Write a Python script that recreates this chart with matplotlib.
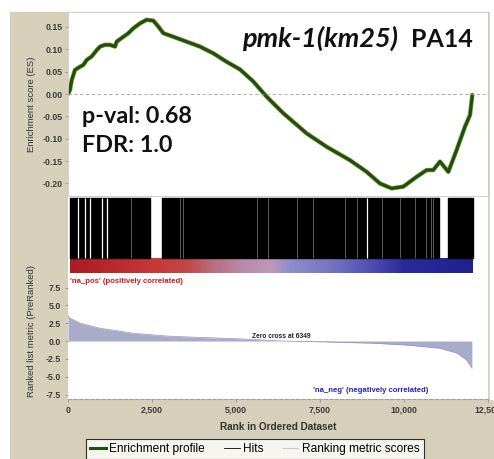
import numpy as np
import matplotlib
matplotlib.use('Agg')
from matplotlib import pyplot as plt
from matplotlib.patches import Rectangle
from matplotlib.lines import Line2D
from matplotlib.colors import LinearSegmentedColormap

plt.rcParams['axes.unicode_minus'] = False

# enrichment profile (rank, ES)
es_rank = [0, 60, 110, 208, 357, 456, 555, 704, 853, 952, 1101, 1250, 1399, 1448,
           1647, 1796, 1944, 2143, 2341, 2540, 2688, 2837, 3135, 3532, 3929, 4325,
           4722, 5119, 5515, 5912, 6408, 7103, 7698, 8392, 8889, 9285, 9633, 9980,
           10377, 10674, 10872, 11071, 11319, 11567, 11815, 11964, 12033]
es_val = [0.0, 0.009, 0.031, 0.054, 0.061, 0.065, 0.076, 0.084, 0.098, 0.106, 0.110,
          0.110, 0.106, 0.117, 0.128, 0.136, 0.147, 0.158, 0.166, 0.164, 0.151, 0.136,
          0.128, 0.117, 0.106, 0.091, 0.072, 0.055, 0.028, -0.006, -0.043, -0.088,
          -0.118, -0.148, -0.174, -0.200, -0.211, -0.207, -0.185, -0.170, -0.170,
          -0.151, -0.174, -0.125, -0.073, -0.047, -0.002]

# ranked list metric (rank, score)
metric_rank = [0, 60, 360, 950, 1930, 2950, 3930, 4910, 5600, 6349, 7500, 9080,
               10090, 11070, 11580, 11870, 12020]
metric_val = [3.6, 3.2, 2.5, 1.8, 1.1, 0.7, 0.5, 0.35, 0.2, 0.0, -0.1, -0.3,
              -0.56, -1.0, -1.7, -2.7, -3.8]

# hits: dense blocks of hits and the small holes between them
hit_blocks = [(60, 2440), (2790, 11040), (11310, 12050)]
gap_white = [307, 506, 655, 1003, 1152, 8898]
gap_gray = [1875, 3333, 3422, 5625, 5952, 6815, 7291, 8244, 8601, 9345, 9880,
            10327, 10654, 10803, 10862]

# colour bar under the hits (rank stop, colour)
bar_stops = [0, 2500, 3500, 4300, 5100, 6000, 6500, 8000, 9200, 10000, 12050]
bar_colors = ['#a81c22', '#c83838', '#c04848', '#b87080', '#b888a8', '#c098b8',
              '#9090cc', '#7070c0', '#4848b0', '#2a2a9c', '#20208f']

x_ticks = [0, 2500, 5000, 7500, 10000, 12500]
x_tick_labels = ['0', '2,500', '5,000', '7,500', '10,000', '12,500']
es_ticks = [-0.20, -0.15, -0.10, -0.05, 0.00, 0.05, 0.10, 0.15]
metric_ticks = [-7.5, -5.0, -2.5, 0.0, 2.5, 5.0, 7.5]

tan = '#d6cfb9'
W, H = 494, 459
fig = plt.figure(figsize=(W / 100, H / 100), dpi=100)
fig.patch.set_facecolor('white')
fig.add_artist(Rectangle((10 / W, 0), 1, 1 - 12 / H, transform=fig.transFigure,
                         color=tan, zorder=-5))
fig.add_artist(Rectangle((490 / W, 60 / H), 1, 1, transform=fig.transFigure,
                         color='white', zorder=-4))

L = 68 / W
AW = 420 / W
ax1 = fig.add_axes([L, 1 - 196 / H, AW, 184 / H])
ax2 = fig.add_axes([L, 1 - 277 / H, AW, 81 / H])
ax3 = fig.add_axes([L, 1 - 399 / H, AW, 122 / H])

tickfont = dict(family='Liberation Sans', weight='bold', size=6.3)

# ---- enrichment score
ax1.plot(es_rank, es_val, color='#8c9a2a', lw=3.2, solid_capstyle='round')
ax1.plot(es_rank, es_val, color='#1d4f14', lw=2.2, solid_capstyle='round')
ax1.axhline(0, color='#a0a0a0', lw=0.6, ls=(0, (4, 3)))
ax1.set_xlim(0, 12500)
ax1.set_ylim(-0.228, 0.1834)
ax1.set_xticks([])
ax1.set_yticks(es_ticks)
ax1.set_yticklabels(['%.2f' % v for v in es_ticks], fontdict=tickfont, color='#3a3a3a')
ax1.set_ylabel('Enrichment score (ES)', family='Liberation Sans', size=6.8, color='#333333')
ax1.yaxis.set_label_coords(-0.075, 0.5)
for s in ax1.spines.values():
    s.set_color('#c8c8c8')
    s.set_linewidth(0.6)
ax1.tick_params(axis='y', length=2, width=0.5, color='#888888', pad=2)

ax1.text(9820, 0.105, 'pmk-1(km25)', family='Lato', style='italic', weight='bold',
         size=19.5, ha='right', va='baseline', color='#111111')
ax1.text(10208, 0.105, 'PA14', family='Lato', weight='bold', size=18,
         ha='left', va='baseline', color='#111111')
ax1.text(417, -0.065, 'p-val: 0.68', family='Lato', weight='bold', size=16.8,
         ha='left', va='baseline', color='#111111')
ax1.text(417, -0.130, 'FDR: 1.0', family='Lato', weight='bold', size=16.8,
         ha='left', va='baseline', color='#111111')

# ---- hits + colour bar
ax2.set_xlim(0, 12500)
ax2.set_ylim(0, 1)
ax2.broken_barh([(a, b - a) for a, b in hit_blocks], (0.23, 0.745), color='black')
ax2.vlines(gap_white, 0.23, 0.975, color='white', lw=0.9)
ax2.vlines(gap_gray, 0.23, 0.975, color='#6a6a6a', lw=0.6)
pos = [(s - bar_stops[0]) / (bar_stops[-1] - bar_stops[0]) for s in bar_stops]
cmap = LinearSegmentedColormap.from_list('bar', list(zip(pos, bar_colors)))
ax2.imshow(np.linspace(0, 1, 600)[None, :], cmap=cmap, aspect='auto',
           extent=(bar_stops[0] + 60, bar_stops[-1], 0.05, 0.23))
ax2.set_xticks([])
ax2.set_yticks([])
for k, s in ax2.spines.items():
    s.set_visible(k == 'top')
    s.set_color('#c8c8c8')
    s.set_linewidth(0.6)

# ---- ranked list metric
ax3.fill_between(metric_rank, metric_val, 0, color='#a9abca', lw=0)
ax3.plot(metric_rank, metric_val, color='#9496bd', lw=0.5)
ax3.set_xlim(0, 12500)
ax3.set_ylim(-8.13, 8.98)
ax3.set_yticks(metric_ticks)
ax3.set_yticklabels(['%.1f' % v for v in metric_ticks], fontdict=tickfont, color='#3a3a3a')
ax3.set_xticks(x_ticks)
ax3.set_xticklabels(x_tick_labels, fontdict=tickfont, color='#3a3a3a')
ax3.tick_params(length=2, width=0.5, color='#888888', pad=3)
ax3.set_xlabel('Rank in Ordered Dataset', family='Liberation Sans', weight='bold',
               size=7.2, color='#333333', labelpad=5)
ax3.set_ylabel('Ranked list metric (PreRanked)', family='Liberation Sans', size=6.8,
               color='#333333')
ax3.yaxis.set_label_coords(-0.075, 0.56)
for k, s in ax3.spines.items():
    s.set_visible(k == 'bottom')
ax3.spines['bottom'].set_color('#a0a0a0')
ax3.spines['bottom'].set_linestyle((0, (3, 2)))
ax3.spines['bottom'].set_linewidth(0.8)

ax3.text(60, 8.9, "'na_pos' (positively correlated)", family='Liberation Sans',
         weight='bold', size=5.6, color='#d01818', ha='left', va='top')
ax3.text(10714, -7.0, "'na_neg' (negatively correlated)", family='Liberation Sans',
         weight='bold', size=5.6, color='#2424c0', ha='right', va='center')
ax3.text(6349, 0.1, 'Zero cross at 6349', family='Liberation Sans', weight='bold',
         size=4.8, color='#222222', ha='center', va='bottom')

handles = [Line2D([], [], color='#1d4f14', lw=2.2),
           Line2D([], [], color='black', lw=0.6),
           Line2D([], [], color='#c8c8d8', lw=0.8)]
labels = ['Enrichment profile', 'Hits', 'Ranking metric scores']
leg = fig.legend(handles, labels, loc='upper left', bbox_to_anchor=(86 / W, 1 - 439 / H),
                 ncol=3, handlelength=1.3, handletextpad=0.3, borderaxespad=0,
                 columnspacing=1.6, borderpad=0.35, fancybox=False,
                 prop={'family': 'Liberation Sans', 'size': 8.6})
leg.get_frame().set_edgecolor('black')
leg.get_frame().set_linewidth(0.8)

fig.savefig('out.png', dpi=100, facecolor=fig.get_facecolor())
